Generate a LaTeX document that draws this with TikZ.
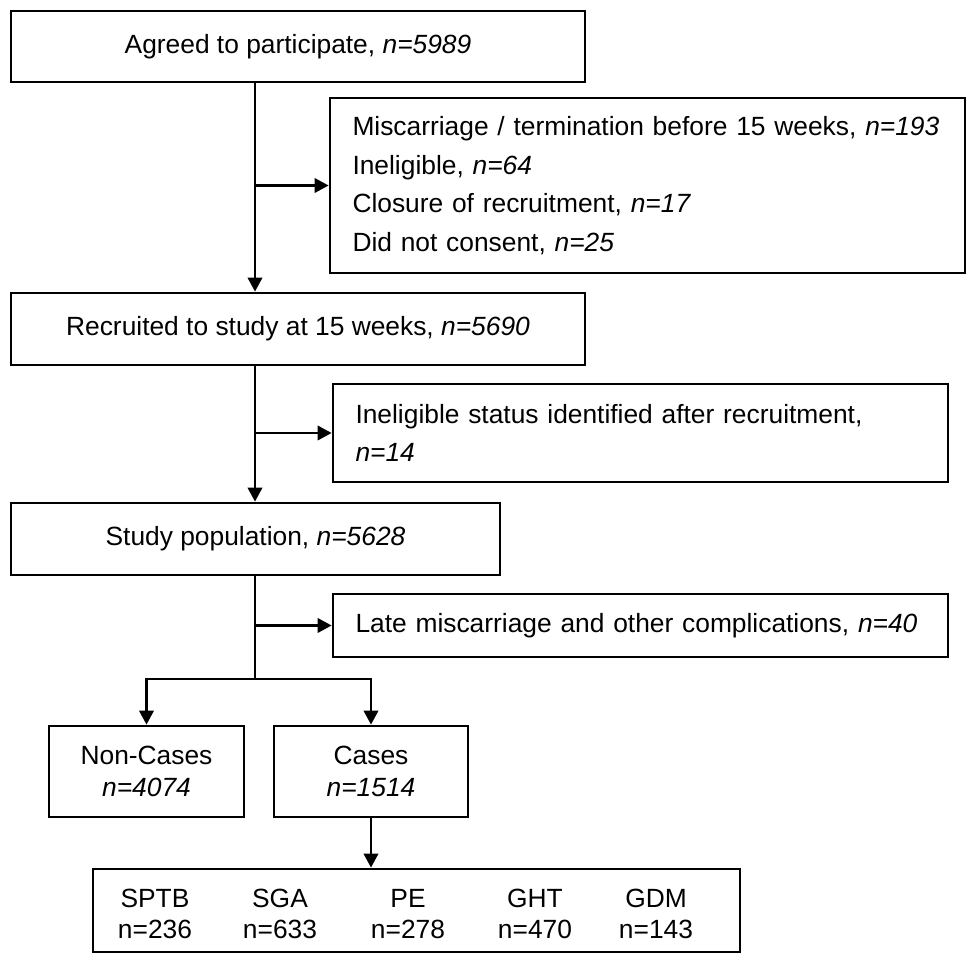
\documentclass[tikz,border=0pt]{standalone}
\usepackage{fontspec}
\setmainfont{Liberation Sans}
\usepackage{tikz}
\usetikzlibrary{arrows.meta,positioning,calc}

\begin{document}
\begin{tikzpicture}[scale=1.0,
    box/.style={draw, line width=1.6pt, inner sep=0pt, align=center,
        font=\fontsize{15}{22}\selectfont},
    sidebox/.style={box, align=left, inner xsep=0.45cm, text width=#1},
    smallbox/.style={box, font=\fontsize{15}{18}\selectfont},
    column/.style={inner sep=0pt, align=center, font=\fontsize{15}{18}\selectfont},
    link/.style={line width=1.3pt},
    flow/.style={link, -{Triangle[length=0.28cm,width=0.29cm]}}]
\useasboundingbox (0,0) rectangle (19.36,-19.18);

% Main boxes
\node[box, minimum width=11.48cm, minimum height=1.42cm] (agreed) at (5.96,-0.93)
    {Agreed to participate, \textit{n=5989}};
\node[box, minimum width=11.48cm, minimum height=1.44cm] (recruited) at (5.96,-6.58)
    {Recruited to study at 15 weeks, \textit{n=5690}};
\node[box, minimum width=9.78cm, minimum height=1.44cm] (study) at (5.11,-10.78)
    {Study population, \textit{n=5628}};

% Exclusions
\node[sidebox=11.8cm, minimum height=3.5cm] (excl1) at (12.95,-3.71)
    {Miscarriage / termination before 15 weeks, \textit{n=193}\\
     Ineligible, \textit{n=64}\\
     Closure of recruitment, \textit{n=17}\\
     Did not consent, \textit{n=25}};
\node[sidebox=11.4cm, minimum height=1.96cm] (excl2) at (12.81,-8.66)
    {Ineligible status identified after recruitment,\\ \textit{n=14}};
\node[sidebox=11.4cm, minimum height=1.26cm] (excl3) at (12.81,-12.51)
    {Late miscarriage and other complications, \textit{n=40}};

% Case groups
\node[smallbox, minimum width=3.9cm, minimum height=1.82cm] (noncases) at (2.93,-15.43)
    {Non-Cases\\ \textit{n=4074}};
\node[smallbox, minimum width=3.88cm, minimum height=1.82cm] (cases) at (7.42,-15.43)
    {Cases\\ \textit{n=1514}};

% Outcomes
\node[box, minimum width=12.94cm, minimum height=1.66cm] (outcomes) at (8.33,-18.21) {};
\foreach \x/\name/\lab/\num in {3.1/sptb/SPTB/236, 5.6/sga/SGA/633, 8.16/pe/PE/278,
                               10.7/ght/GHT/470, 13.12/gdm/GDM/143}
    \node[column] (\name) at (\x,-18.28) {\lab\\ n=\num};

% Connectors
\coordinate (trunk) at (5.1,0);
\coordinate (split) at (5.1,-13.58);
\draw[flow] (agreed.south -| trunk) -- (recruited.north -| trunk);
\draw[flow] (excl1.west -| trunk) -- (excl1.west);
\draw[flow] (recruited.south -| trunk) -- (study.north -| trunk);
\draw[flow] (excl2.west -| trunk) -- (excl2.west);
\draw[link] (study.south -| trunk) -- (split);
\draw[flow] (excl3.west -| trunk) -- (excl3.west);
\draw[flow] (split) -| (noncases.north);
\draw[flow] (split) -| (cases.north);
\draw[flow] (cases.south) -- (cases.south |- outcomes.north);
\end{tikzpicture}
\end{document}
